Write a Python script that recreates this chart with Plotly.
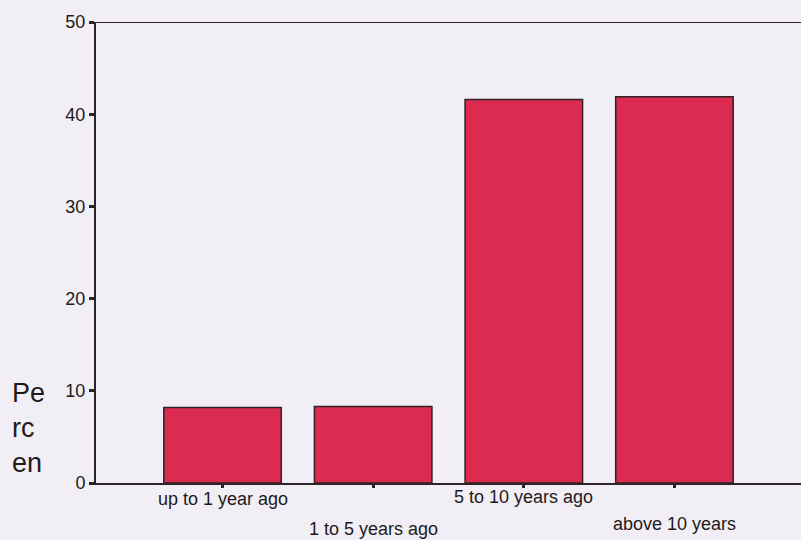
import plotly.graph_objects as go

categories = ["up to 1 year ago", "1 to 5 years ago", "5 to 10 years ago", "above 10 years"]
percent = [8.2, 8.3, 41.6, 41.9]
y_ticks = [0, 10, 20, 30, 40, 50]

BG = "#f1eef5"
BAR = "#dc2b50"
INK = "#2e2428"
TEXT = "#1e1a1c"
FONT = "Liberation Sans, Arial, sans-serif"

x_pos = list(range(len(categories)))

fig = go.Figure(
    go.Bar(
        x=x_pos,
        y=percent,
        width=0.78,
        marker=dict(color=BAR, line=dict(color=INK, width=1.5)),
        hoverinfo="skip",
    )
)

# staggered category labels below the axis
label_y = [-0.035, -0.1, -0.03, -0.09]
for i, (cat, ly) in enumerate(zip(categories, label_y)):
    fig.add_annotation(
        x=i, y=ly, xref="x", yref="paper", text=cat, showarrow=False,
        font=dict(family=FONT, size=18, color=TEXT), yanchor="middle",
    )

# y title split over lines, left of the tick labels
fig.add_annotation(
    x=-0.122, y=11.6, xref="paper", yref="y", text="Pe<br>rc<br>en", showarrow=False,
    align="left", xanchor="left", yanchor="top",
    font=dict(family=FONT, size=27, color=TEXT),
)

# top frame line running to the right edge
fig.add_shape(type="line", xref="paper", yref="y", x0=0, x1=1.02, y0=50, y1=50,
              line=dict(color=INK, width=2))

fig.update_layout(
    width=801, height=540,
    margin=dict(l=96, r=0, t=22, b=57),
    paper_bgcolor=BG, plot_bgcolor=BG,
    showlegend=False,
    xaxis=dict(
        range=[-0.84, 3.84], tickvals=x_pos, ticktext=["", "", "", ""],
        showline=True, linecolor=INK, linewidth=2,
        ticks="outside", ticklen=3, tickwidth=3, tickcolor=INK,
        showgrid=False, zeroline=False, fixedrange=True,
    ),
    yaxis=dict(
        range=[0, 50], tickvals=y_ticks,
        showline=True, linecolor=INK, linewidth=2,
        ticks="outside", ticklen=5, tickwidth=3, tickcolor=INK,
        showgrid=False, zeroline=False,
        tickfont=dict(family=FONT, size=18, color=TEXT),
    ),
)

fig.write_html("out.html")
